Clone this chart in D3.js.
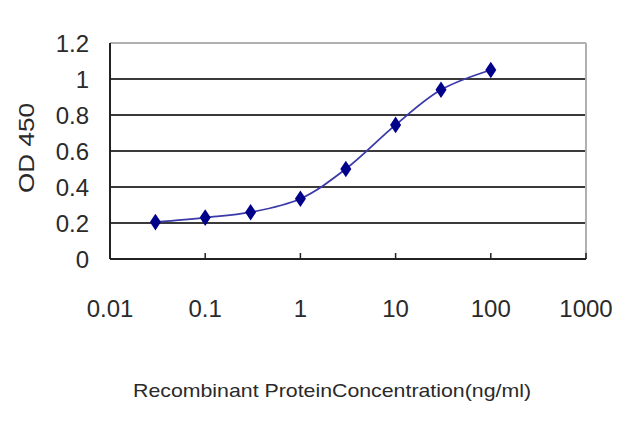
<!DOCTYPE html>
<html>
<head>
<meta charset="utf-8">
<script src="https://cdn.jsdelivr.net/npm/d3@7"></script>
<style>
  body { margin: 0; background: #fff; }
  text { font-family: "Liberation Sans", Arial, sans-serif; fill: #2a2a2a; }
</style>
</head>
<body>
<div id="chart"></div>
<script>
// Chart data
const concentrations = [0.03, 0.1, 0.3, 1, 3, 10, 30, 100];
const od450 = [0.205, 0.23, 0.26, 0.335, 0.5, 0.745, 0.94, 1.05];
const xTicks = [0.01, 0.1, 1, 10, 100, 1000];
const xTickLabels = ["0.01", "0.1", "1", "10", "100", "1000"];
const yTicks = [0, 0.2, 0.4, 0.6, 0.8, 1, 1.2];
const yTickLabels = ["0", "0.2", "0.4", "0.6", "0.8", "1", "1.2"];
const xTitle = "Recombinant ProteinConcentration(ng/ml)";
const yTitle = "OD 450";

const width = 640;
const height = 427;
const plot = { left: 110, right: 586, top: 43, bottom: 259 };

const svg = d3.select("#chart")
    .append("svg")
    .attr("width", width)
    .attr("height", height);

svg.append("rect")
    .attr("width", width)
    .attr("height", height)
    .attr("fill", "#fff");

// Scales
const x = d3.scaleLog()
    .domain([0.01, 1000])
    .range([plot.left, plot.right]);

const y = d3.scaleLinear()
    .domain([0, 1.2])
    .range([plot.bottom, plot.top]);

// Horizontal gridlines (top one is the light frame)
svg.append("g")
    .selectAll("line")
    .data(yTicks.filter(d => d > 0))
    .enter()
    .append("line")
    .attr("x1", plot.left)
    .attr("x2", plot.right)
    .attr("y1", d => y(d))
    .attr("y2", d => y(d))
    .attr("stroke", d => d === 1.2 ? "#b0b0b0" : "#3a3a3a")
    .attr("stroke-width", 2);

// Right frame edge
svg.append("line")
    .attr("x1", plot.right)
    .attr("x2", plot.right)
    .attr("y1", plot.top)
    .attr("y2", plot.bottom)
    .attr("stroke", "#b0b0b0")
    .attr("stroke-width", 2);

// Axes lines
svg.append("line")
    .attr("x1", plot.left)
    .attr("x2", plot.left)
    .attr("y1", plot.top)
    .attr("y2", plot.bottom)
    .attr("stroke", "#222")
    .attr("stroke-width", 2);

svg.append("line")
    .attr("x1", plot.left)
    .attr("x2", plot.right)
    .attr("y1", plot.bottom)
    .attr("y2", plot.bottom)
    .attr("stroke", "#222")
    .attr("stroke-width", 2);

// Small inside tick marks on the x axis
svg.append("g")
    .selectAll("line")
    .data(xTicks)
    .enter()
    .append("line")
    .attr("x1", d => x(d))
    .attr("x2", d => x(d))
    .attr("y1", plot.bottom)
    .attr("y2", plot.bottom - 6)
    .attr("stroke", "#222")
    .attr("stroke-width", 1.5);

// Tick labels
svg.append("g")
    .selectAll("text")
    .data(yTicks)
    .enter()
    .append("text")
    .attr("x", 89)
    .attr("y", d => y(d))
    .attr("dy", "0.36em")
    .attr("text-anchor", "end")
    .attr("font-size", 24)
    .text((d, i) => yTickLabels[i]);

svg.append("g")
    .selectAll("text")
    .data(xTicks)
    .enter()
    .append("text")
    .attr("x", d => x(d))
    .attr("y", 317)
    .attr("text-anchor", "middle")
    .attr("font-size", 24)
    .text((d, i) => xTickLabels[i]);

// Axis titles
svg.append("text")
    .attr("transform", "translate(34,148) rotate(-90)")
    .attr("text-anchor", "middle")
    .attr("font-size", 22)
    .attr("textLength", 90)
    .attr("lengthAdjust", "spacingAndGlyphs")
    .text(yTitle);

svg.append("text")
    .attr("x", 332)
    .attr("y", 397)
    .attr("text-anchor", "middle")
    .attr("font-size", 19)
    .attr("textLength", 398)
    .attr("lengthAdjust", "spacingAndGlyphs")
    .text(xTitle);

// Series
const points = concentrations.map((c, i) => ({ c: c, v: od450[i] }));

const line = d3.line()
    .x(d => x(d.c))
    .y(d => y(d.v))
    .curve(d3.curveCatmullRom.alpha(0.5));

svg.append("path")
    .datum(points)
    .attr("d", line)
    .attr("fill", "none")
    .attr("stroke", "#3a3aa8")
    .attr("stroke-width", 1.8);

svg.append("g")
    .selectAll("path")
    .data(points)
    .enter()
    .append("path")
    .attr("d", d3.symbol().type(d3.symbolDiamond).size(80))
    .attr("transform", d => `translate(${x(d.c)},${y(d.v)}) scale(1.15,1)`)
    .attr("fill", "#00008b");
</script>
</body>
</html>
